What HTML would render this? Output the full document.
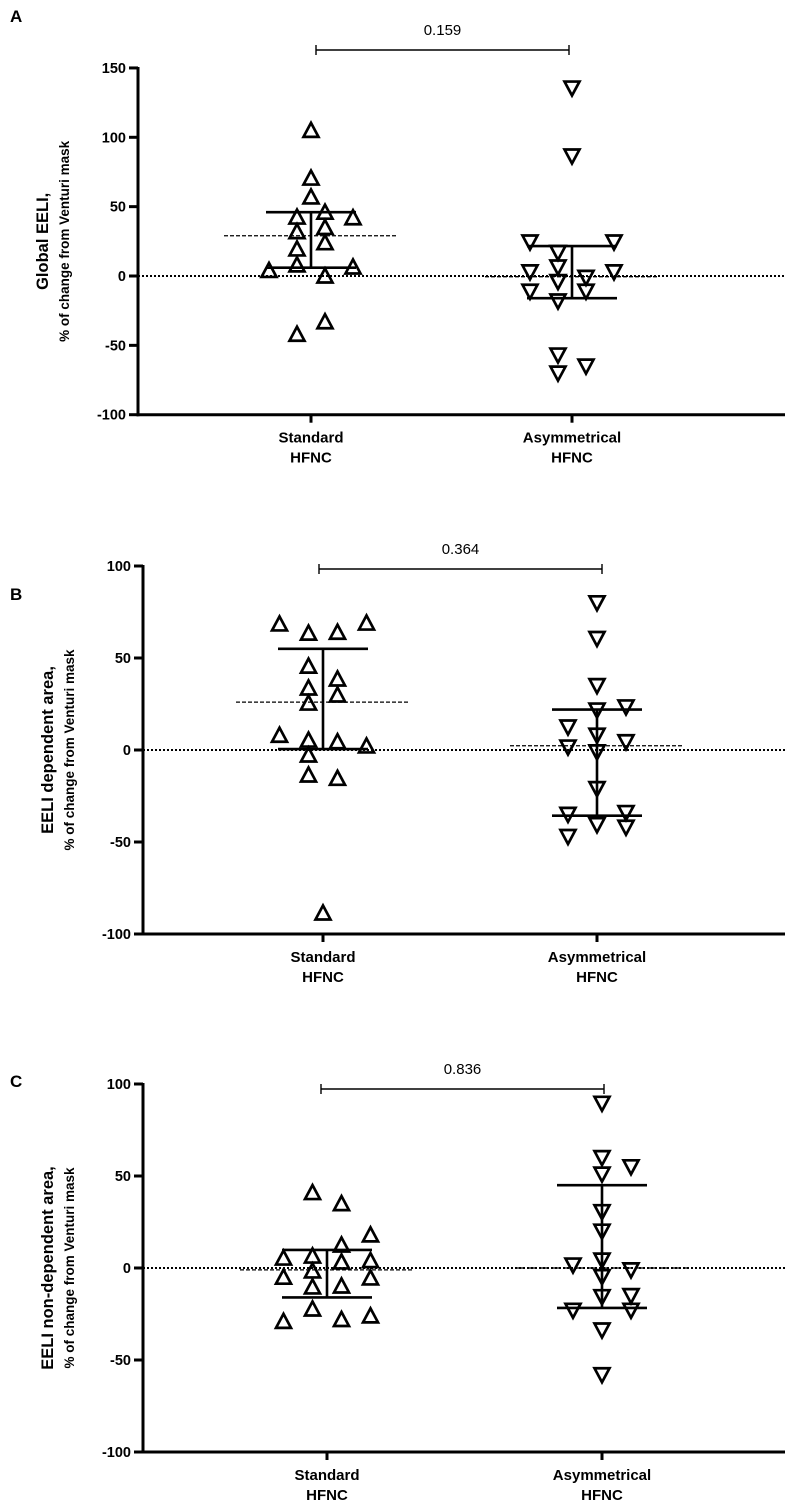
<!DOCTYPE html>
<html><head><meta charset="utf-8"><style>
html,body{margin:0;padding:0;background:#fff}
svg{display:block;font-family:"Liberation Sans",Arial,sans-serif}
</style></head><body>
<svg id="fig" width="787" height="1509" viewBox="0 0 787 1509"></svg>
<script>
// Panel data
const categories = ["Standard", "Asymmetrical"];
const aStdValues = [105,70.6,57,42.5,46,42,32,35,24,19.5,8,4,6.5,0,-33,-42];
const aStdCols   = [0,0,0,-1,1,3,-1,1,1,-1,-1,-3,3,1,1,-1];
const aAsyValues = [135.5,86.5,24.5,24.5,17,6.5,3,3,-1,-4,-11,-11,-18,-57,-65,-70];
const aAsyCols   = [0,0,-3,3,-1,-1,-3,3,1,-1,-3,1,-1,-1,1,-1];
const aStats = {stdMean:29, stdTop:46, stdBot:6, asyMean:-0.5, asyTop:21.6, asyBot:-16};
const bStdValues = [68.5,63.5,64,69,45.6,38.6,33.7,29.9,25.5,8,5.4,4.5,2.2,-2.7,-13.6,-15.4,-88.6];
const bStdCols   = [-3,-1,1,3,-1,1,-1,1,-1,-3,-1,1,3,-1,-1,1,0];
const bAsyValues = [80,60.6,35,21.7,23.4,12.5,8,4.5,1.6,-1,-21,-35,-34,-40.6,-42,-47];
const bAsyCols   = [0,0,0,0,2,-2,0,2,-2,0,0,-2,2,0,2,-2];
const bStats = {stdMean:26, stdTop:55, stdBot:0.5, asyMean:2.3, asyTop:22, asyBot:-35.7};
const cStdValues = [41,35,18,12.5,5.4,6.5,3.3,4,-1.6,-5,-5.4,-10.3,-9.8,-22.3,-29,-28,-26];
const cStdCols   = [-1,1,3,1,-3,-1,1,3,-1,-3,3,-1,1,-1,-3,1,3];
const cAsyValues = [89.5,60,55,51,30.6,20,1.6,4.3,-1,-4.7,-15.6,-15,-23,-23,-33.7,-58];
const cAsyCols   = [0,0,2,0,0,0,-2,0,2,0,0,2,-2,2,0,0];
const cStats = {stdMean:-1, stdTop:9.8, stdBot:-16, asyMean:0, asyTop:45, asyBot:-21.7};
const aTicks = [150,100,50,0,-50,-100];
const bTicks = [100,50,0,-50,-100];
const cTicks = [100,50,0,-50,-100];
const pValues = ["0.159","0.364","0.836"];

const NS = "http://www.w3.org/2000/svg";
const svg = document.getElementById('fig');
function mk(tag, attrs, parent){
  const e = document.createElementNS(NS, tag);
  for (const k in attrs) e.setAttribute(k, attrs[k]);
  (parent||svg).appendChild(e); return e;
}

function panel(cfg){
  const g = mk('g', {});
  
  
  const y = v => cfg.y0 - v * cfg.k;
  const ymin = y(cfg.ticks[cfg.ticks.length-1]), ymax = y(cfg.ticks[0]);
  const L = mk('text', {x:10, y:cfg.letterY, 'font-size':17, 'font-weight':'bold'}, g);
  L.textContent = cfg.letter;
  
  
  const ya = mk('line', {x1:cfg.ax, y1:ymax-1, x2:cfg.ax, y2:ymin+1.5, stroke:'#000','stroke-width':3}, g);
  
  
  cfg.ticks.forEach(t => {
    mk('line', {x1:cfg.ax-9, y1:y(t), x2:cfg.ax, y2:y(t), stroke:'#000','stroke-width':3}, g);
    const tl = mk('text', {x:cfg.ax-12, y:y(t)+5, 'font-size':14.5, 'font-weight':'bold','text-anchor':'end'}, g);
    tl.textContent = t;
    
    
  });
  const xa = mk('line', {x1:cfg.ax-1.5, y1:ymin, x2:785, y2:ymin, stroke:'#000','stroke-width':3}, g);
  
  
  const z = mk('line', {x1:cfg.ax, y1:y(0), x2:785, y2:y(0), stroke:'#000','stroke-width':2,'stroke-dasharray':'2,2'}, g);
  
  
  const tt = mk('text', {transform:`translate(${cfg.ax-90},${(ymax+ymin)/2}) rotate(-90)`, 'font-size':16.5, 'font-weight':'bold','text-anchor':'middle'}, g);
  tt.textContent = cfg.title;
  
  
  const ts = mk('text', {transform:`translate(${cfg.ax-69},${(ymax+ymin)/2}) rotate(-90)`, 'font-size':13.5, 'font-weight':'bold','text-anchor':'middle'}, g);
  ts.textContent = "% of change from Venturi mask";
  
  
  const groups = [
    {cx:cfg.cx[0], vals:cfg.std, cols:cfg.stdCols, up:true, mean:cfg.st.stdMean, top:cfg.st.stdTop, bot:cfg.st.stdBot, name:categories[0]},
    {cx:cfg.cx[1], vals:cfg.asy, cols:cfg.asyCols, up:false, mean:cfg.st.asyMean, top:cfg.st.asyTop, bot:cfg.st.asyBot, name:categories[1]}
  ];
  groups.forEach(gr => {
    mk('line', {x1:gr.cx, y1:ymin, x2:gr.cx, y2:ymin+8, stroke:'#000','stroke-width':3}, g);
    const l1 = mk('text', {x:gr.cx, y:ymin+28, 'font-size':15, 'font-weight':'bold','text-anchor':'middle'}, g);
    l1.textContent = gr.name;
    
    
    const l2 = mk('text', {x:gr.cx, y:ymin+48, 'font-size':15, 'font-weight':'bold','text-anchor':'middle'}, g);
    l2.textContent = "HFNC";
    
    
    const md = mk('line', {x1:gr.cx-87, y1:y(gr.mean), x2:gr.cx+87, y2:y(gr.mean), stroke:'#000','stroke-width':1.3,'stroke-dasharray':'4,2'}, g);
    
    
    gr.vals.forEach((v, i) => {
      const px = gr.cx + gr.cols[i] * cfg.dx, py = y(v);
      const d = gr.up
        ? `M${px-7.5},${py+6.5} L${px+7.5},${py+6.5} L${px},${py-7.5} Z`
        : `M${px-7.5},${py-6.5} L${px+7.5},${py-6.5} L${px},${py+7.5} Z`;
      const p = mk('path', {d:d, fill:'none', stroke:'#000','stroke-width':2.7,'stroke-linejoin':'miter'}, g);
      
      
    });
    const eb = mk('path', {d:`M${gr.cx},${y(gr.top)} L${gr.cx},${y(gr.bot)} M${gr.cx-45},${y(gr.top)} L${gr.cx+45},${y(gr.top)} M${gr.cx-45},${y(gr.bot)} L${gr.cx+45},${y(gr.bot)}`, fill:'none', stroke:'#000','stroke-width':2.6}, g);
    
    
  });
  const bx1 = cfg.br[0], bx2 = cfg.br[1], by = cfg.brY;
  const br = mk('path', {d:`M${bx1},${by-5} L${bx1},${by+5} M${bx1},${by} L${bx2},${by} M${bx2},${by-5} L${bx2},${by+5}`, fill:'none', stroke:'#000','stroke-width':1.4}, g);
  
  
  const pv = mk('text', {x:(bx1+bx2)/2, y:by-15, 'font-size':15,'text-anchor':'middle'}, g);
  pv.textContent = cfg.p;
  
  
}

panel({letter:'A', letterY:22, ax:138, y0:276, k:1.387, ticks:aTicks, cx:[311,572], dx:14,
  std:aStdValues, stdCols:aStdCols, asy:aAsyValues, asyCols:aAsyCols, st:aStats,
  title:'Global EELI,', br:[316,569], brY:50, p:pValues[0]});
panel({letter:'B', letterY:600, ax:143, y0:750, k:1.84, ticks:bTicks, cx:[323,597], dx:14.5,
  std:bStdValues, stdCols:bStdCols, asy:bAsyValues, asyCols:bAsyCols, st:bStats,
  title:'EELI dependent  area,', br:[319,602], brY:569, p:pValues[1]});
panel({letter:'C', letterY:1087, ax:143, y0:1268, k:1.84, ticks:cTicks, cx:[327,602], dx:14.5,
  std:cStdValues, stdCols:cStdCols, asy:cAsyValues, asyCols:cAsyCols, st:cStats,
  title:'EELI non-dependent  area,', br:[321,604], brY:1089, p:pValues[2]});
</script>
</body></html>
